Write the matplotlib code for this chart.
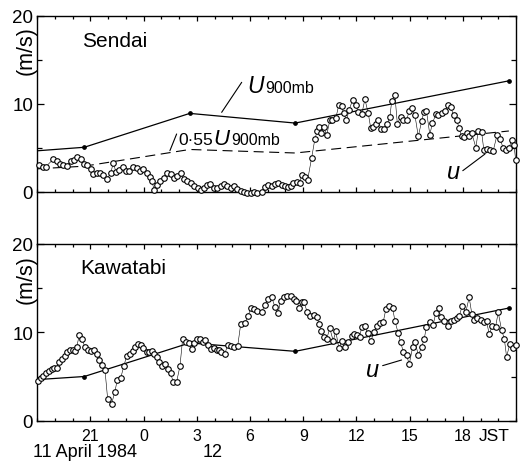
import matplotlib
matplotlib.use('Agg')
import matplotlib.pyplot as plt
from matplotlib.ticker import MultipleLocator, FixedLocator, FuncFormatter

plt.rcParams['font.family'] = ['Liberation Sans', 'DejaVu Sans']

# ---------------- data (time in hours from 00 JST 11 April 1984) ----------------
u900_t = [18.0, 20.65, 26.6, 32.55, 44.6]
sendai_u900 = [4.65, 5.05, 8.9, 7.8, 12.6]
sendai_055u900 = [2.6, 2.9, 4.8, 4.4, 6.9]
kawatabi_u900 = [4.65, 5.0, 8.8, 7.85, 12.75]

sendai_t = [18.11, 18.30, 18.49, 18.90, 19.09, 19.28, 19.47, 19.65, 19.90, 20.07,
            20.26, 20.46, 20.63, 20.82, 21.01, 21.16, 21.35, 21.53, 21.72, 21.91,
            22.14, 22.29, 22.44, 22.62, 22.81, 23.00, 23.19, 23.41, 23.60, 23.79,
            23.98, 24.17, 24.35, 24.45, 24.60, 24.77, 24.95, 25.14, 25.33, 25.52,
            25.71, 25.89, 26.08, 26.27, 26.46, 26.65, 26.85, 27.04, 27.23, 27.40,
            27.59, 27.77, 27.96, 28.15, 28.34, 28.53, 28.71, 28.90, 29.09, 29.28,
            29.47, 29.66, 29.84, 30.03, 30.22, 30.41,
            30.65, 30.84, 31.03, 31.22, 31.40, 31.59, 31.78, 31.97, 32.15, 32.29,
            32.44, 32.63, 32.81, 32.91, 33.09, 33.25, 33.47, 33.66, 33.79, 33.90,
            34.03, 34.17, 34.32, 34.50, 34.65, 34.84, 35.01, 35.16, 35.29, 35.44,
            35.59, 35.78, 35.95, 36.11, 36.30, 36.48, 36.67, 36.81, 36.96, 37.11,
            37.24, 37.37, 37.56, 37.74, 37.89, 37.99, 38.17, 38.31, 38.49, 38.65,
            38.83, 38.98, 39.12, 39.30, 39.49, 39.68, 39.81, 39.95, 40.14, 40.29,
            40.48, 40.61, 40.80, 40.99, 41.17, 41.31, 41.49, 41.65, 41.80, 41.93,
            42.08, 42.21, 42.36, 42.50, 42.74, 42.87, 43.06, 43.19, 43.38, 43.56,
            43.71, 43.94, 44.09, 44.28, 44.43, 44.62, 44.75, 44.89, 44.98]
sendai_u = [3.07, 2.85, 2.85, 3.7, 3.5, 3.1, 3.0, 2.95, 3.5, 3.6,
            4.0, 3.7, 3.1, 3.0, 2.6, 2.0, 2.1, 2.1, 1.9, 1.4,
            2.1, 3.3, 2.2, 2.5, 2.8, 2.4, 2.3, 2.8, 2.65, 2.4,
            2.6, 2.1, 1.7, 1.25, 0.2, 0.75, 1.25, 1.6, 2.1, 2.0,
            1.6, 1.75, 2.1, 1.4, 1.2, 1.0, 0.7, 0.4, 0.2, 0.4,
            0.75, 0.9, 0.45, 0.4, 0.6, 0.9, 0.6, 0.4, 0.6, 0.3,
            0.1, 0.0, -0.1, -0.1, 0.0, -0.1,
            0.0, 0.5, 0.75, 0.65, 0.9, 0.95, 0.75, 0.6, 0.5, 0.65,
            0.95, 1.15, 0.95, 1.9, 1.7, 1.35, 3.8, 6.0, 6.9, 7.4,
            6.7, 7.3, 6.4, 8.1, 8.2, 8.35, 9.9, 9.7, 8.9, 8.1,
            9.3, 10.4, 9.9, 9.1, 8.8, 10.5, 8.9, 7.2, 7.4, 7.7,
            8.2, 7.1, 7.1, 7.7, 8.5, 10.3, 11.0, 7.7, 8.5, 8.1,
            8.1, 9.2, 9.5, 8.7, 6.3, 8.0, 9.1, 9.2, 6.5, 7.8,
            8.8, 8.7, 9.0, 9.2, 9.8, 9.6, 8.7, 8.2, 7.2, 6.3,
            6.2, 6.65, 6.3, 6.7, 5.0, 6.9, 6.8, 4.7, 4.8, 4.7,
            4.6, 6.5, 6.0, 5.0, 4.7, 5.0, 5.9, 5.3, 3.65]

kawatabi_t = [18.06, 18.19, 18.34, 18.49, 18.64, 18.81, 18.96, 19.09, 19.24, 19.39,
              19.54, 19.69, 19.84, 19.99, 20.14, 20.22, 20.37, 20.52, 20.69, 20.88,
              21.03, 21.21, 21.35, 21.48, 21.63, 21.82, 21.97, 22.19, 22.38, 22.51,
              22.70, 22.89, 23.04, 23.23, 23.38, 23.51, 23.66, 23.85, 23.98, 24.17,
              24.30, 24.45, 24.58, 24.73, 24.88, 25.03, 25.18, 25.35, 25.52, 25.67,
              25.86, 26.05, 26.20, 26.38, 26.57, 26.70, 26.85, 27.02, 27.17, 27.32,
              27.47, 27.62, 27.79, 27.96, 28.11, 28.26, 28.39, 28.58, 28.73, 28.92,
              29.11, 29.30, 29.48, 29.71, 29.90, 30.05, 30.24, 30.42,
              30.65, 30.84, 31.03, 31.22, 31.40, 31.59, 31.72, 31.91, 32.10, 32.29,
              32.47, 32.62, 32.77, 32.91, 33.04, 33.23, 33.38, 33.61, 33.76, 33.90,
              34.03, 34.17, 34.32, 34.50, 34.69, 34.84, 35.01, 35.20, 35.37, 35.54,
              35.73, 35.88, 36.06, 36.20, 36.29, 36.48, 36.63, 36.82, 36.99, 37.14,
              37.32, 37.51, 37.66, 37.85, 38.04, 38.17, 38.36, 38.49, 38.65, 38.83,
              38.98, 39.17, 39.30, 39.49, 39.68, 39.83, 39.95, 40.14, 40.33, 40.48,
              40.65, 40.76, 40.95, 41.14, 41.31, 41.49, 41.68, 41.80, 41.97, 42.17,
              42.36, 42.51, 42.64, 42.83, 43.00, 43.19, 43.34, 43.49, 43.66, 43.85,
              44.00, 44.19, 44.34, 44.47, 44.66, 44.85, 44.98]
kawatabi_u = [4.45, 4.8, 5.1, 5.4, 5.65, 5.9, 6.0, 6.0, 6.6, 7.0,
              7.35, 7.75, 8.0, 8.0, 7.9, 8.3, 9.7, 9.3, 8.3, 8.0,
              7.9, 8.0, 7.55, 6.9, 6.3, 5.7, 2.45, 1.9, 3.3, 4.6,
              4.8, 6.2, 7.35, 7.5, 7.9, 8.3, 8.7, 8.55, 8.2, 7.8,
              7.8, 7.85, 7.55, 7.2, 6.6, 6.15, 6.4, 5.9, 5.35, 4.4,
              4.4, 6.2, 9.3, 8.95, 8.75, 8.1, 8.8, 9.2, 9.25, 8.9,
              9.1, 8.55, 8.1, 8.2, 8.0, 8.0, 7.8, 7.55, 8.55, 8.5,
              8.3, 8.4, 11.0, 11.05, 11.9, 12.8, 12.6, 12.45,
              12.3, 13.1, 13.8, 14.0, 12.9, 12.2, 13.6, 13.95, 14.15, 14.1,
              13.8, 13.6, 12.8, 13.4, 13.4, 12.3, 11.9, 12.0, 11.7, 11.0,
              10.1, 9.5, 9.25, 10.45, 9.05, 10.1, 8.2, 9.05, 8.3, 8.9,
              9.6, 9.8, 9.7, 9.5, 10.6, 10.75, 9.9, 9.05, 10.0, 10.7,
              11.1, 11.15, 12.6, 13.0, 12.8, 11.3, 9.9, 8.9, 7.75, 7.4,
              6.4, 8.3, 8.95, 7.45, 8.3, 9.3, 10.65, 11.15, 10.85, 12.2,
              12.7, 11.7, 11.3, 10.75, 11.3, 11.4, 11.6, 11.85, 13.0, 12.3,
              13.95, 12.1, 11.4, 11.6, 11.4, 11.2, 11.25, 9.8, 10.7, 10.65,
              12.25, 10.25, 9.3, 7.25, 8.7, 8.25, 8.6]

x_major_ticks = [21, 24, 27, 30, 33, 36, 39, 42]

# ---------------- figure ----------------
fig = plt.figure(figsize=(5.25, 4.64), dpi=100)
L, W = 0.0710, 0.9118
ax1 = fig.add_axes([L, 0.4720, W, 0.4920])
ax2 = fig.add_axes([L, 0.0912, W, 0.3808])


def style(ax, ylo):
    ax.set_xlim(18, 45)
    ax.set_ylim(ylo, 20)
    ax.xaxis.set_major_locator(FixedLocator(x_major_ticks))
    ax.xaxis.set_minor_locator(MultipleLocator(1))
    ax.xaxis.set_major_formatter(FuncFormatter(lambda x, p: f"{int(round(x)) % 24}"))
    ax.set_yticks([0, 10, 20])
    ax.yaxis.set_minor_locator(FixedLocator([5, 15]))
    ax.tick_params(which='both', direction='in', top=True, right=True, width=0.9, colors='black')
    ax.tick_params(axis='x', which='major', length=3.5, labelsize=11.5, pad=5)
    ax.tick_params(axis='x', which='minor', length=2)
    ax.tick_params(axis='y', which='major', length=5, labelsize=13.5, pad=3)
    ax.tick_params(axis='y', which='minor', length=3.5)
    for s in ax.spines.values():
        s.set_linewidth(1.0)


style(ax1, -5.94)
style(ax2, 0)
ax1.spines['bottom'].set_position(('data', 0))
ax1.tick_params(labelbottom=False)

circ = dict(marker='o', ms=4.0, mfc='white', mec='black', mew=0.8,
            color='black', lw=0.4, zorder=3, clip_on=False)

# Sendai
ax1.plot(u900_t, sendai_u900, color='black', lw=0.9, marker='o', ms=2.4,
         markevery=[1, 2, 3, 4], zorder=2)
ax1.plot(u900_t, sendai_055u900, color='black', lw=0.8, ls=(0, (9, 5)), zorder=2)
ax1.plot(sendai_t, sendai_u, **circ)

# Kawatabi
ax2.plot(u900_t, kawatabi_u900, color='black', lw=0.9, marker='o', ms=2.4,
         markevery=[1, 2, 3, 4], zorder=2)
ax2.plot(kawatabi_t, kawatabi_u, **circ)

# panel names
ax1.text(20.52, 16.56, 'Sendai', fontsize=15, va='baseline')
ax2.text(20.41, 16.73, 'Kawatabi', fontsize=15, va='baseline')

# labels
ax1.text(29.84, 11.33, 'U', fontsize=16.5, style='italic', va='baseline')
ax1.text(30.85, 11.33, '900mb', fontsize=11.5, va='baseline')
ax1.annotate('', xy=(28.40, 9.02), xytext=(29.53, 12.43),
             arrowprops=dict(arrowstyle='-', lw=0.8, color='black', shrinkA=0, shrinkB=0))

ax1.text(25.94, 5.42, '0·55', fontsize=12.5, va='baseline')
ax1.text(27.95, 5.42, 'U', fontsize=16, style='italic', va='baseline')
ax1.text(28.95, 5.42, '900mb', fontsize=11.5, va='baseline')
ax1.annotate('', xy=(25.48, 4.66), xytext=(25.86, 6.56),
             arrowprops=dict(arrowstyle='-', lw=0.8, color='black', shrinkA=0, shrinkB=0))

ax1.text(41.50, 2.3, 'u', fontsize=17, style='italic', ha='center', va='center')
ax1.annotate('', xy=(43.25, 4.28), xytext=(42.0, 2.39),
             arrowprops=dict(arrowstyle='-', lw=0.8, color='black', shrinkA=0, shrinkB=0))

ax2.text(36.9, 5.85, 'u', fontsize=17, style='italic', ha='center', va='center')
ax2.annotate('', xy=(38.55, 6.87), xytext=(37.48, 6.23),
             arrowprops=dict(arrowstyle='-', lw=0.8, color='black', shrinkA=0, shrinkB=0))

# axis annotations
ax2.text(43.8, -0.85, 'JST', fontsize=12.5, ha='center', va='top', clip_on=False)
ax2.text(20.69, -4.0, '11 April 1984', fontsize=13, ha='center', va='baseline', clip_on=False)
ax2.text(27.88, -4.0, '12', fontsize=13, ha='center', va='baseline', clip_on=False)

fig.text(0.0495, 0.890, '(m/s)', rotation=90, fontsize=15.5, ha='center', va='center')
fig.text(0.0495, 0.397, '(m/s)', rotation=90, fontsize=15.5, ha='center', va='center')

fig.savefig('out.png', dpi=100)
